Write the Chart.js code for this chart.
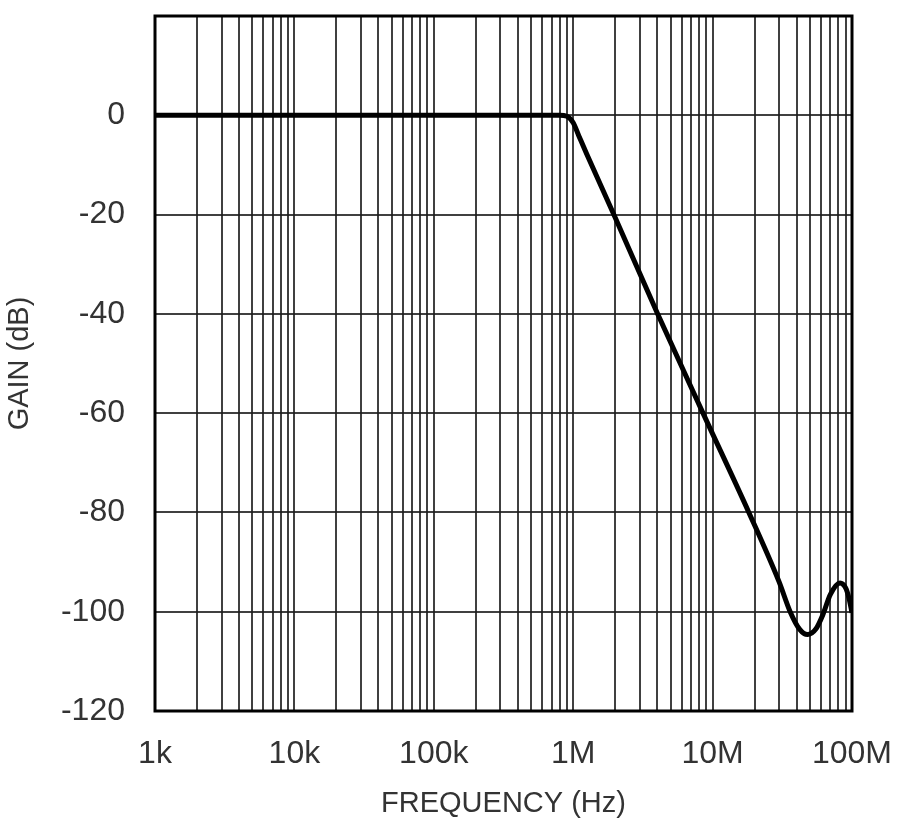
<!DOCTYPE html>
<html>
<head>
<meta charset="utf-8">
<title>Gain vs Frequency</title>
<script src="https://cdn.jsdelivr.net/npm/chart.js@4.4.1/dist/chart.umd.min.js"></script>
<style>
  html, body { margin: 0; padding: 0; background: #fff; }
  #wrap { width: 900px; height: 823px; }
</style>
</head>
<body>
<div id="wrap"><canvas id="gain-chart" width="900" height="823"></canvas></div>
<script>
// curve: frequency (Hz) and gain (dB)
const freqHz = [1e3, 1e4, 1e5, 5e5, 8e5, 9e5, 1e6, 1.1e6, 1.25e6, 2e6, 4e6, 8.7e6,
                18.2e6, 30e6, 36e6, 42e6, 48e6, 55e6, 62e6, 70e6, 82e6, 90e6, 95e6, 1e8];
const gainDb = [0, 0, 0, 0, 0, -0.2, -1.5, -4.2, -7.8, -20.6, -39.8, -60.5,
                -80, -94, -100, -103.5, -104.6, -103.5, -100.5, -96.5, -94.2, -95.2, -97.2, -100.2];

// axis ticks
const decadeTicks = [1e3, 1e4, 1e5, 1e6, 1e7, 1e8];
const decadeLabels = ['1k', '10k', '100k', '1M', '10M', '100M'];
const minorSteps = [1, 2, 3, 4, 5, 6, 7, 8, 9];
const gainTicks = [20, 0, -20, -40, -60, -80, -100, -120];

const TEXT = '#333';
const GRID = 'rgba(30,30,30,0.85)';

function buildFreqTicks() {
    let ticks = [];
    decadeTicks.forEach(function (d, i) {
        if (i === decadeTicks.length - 1) { ticks.push({ value: d }); return; }
        minorSteps.forEach(function (m) { ticks.push({ value: d * m }); });
    });
    return ticks;
}

// box around the plot area
const frame = {
    id: 'frame',
    beforeDatasetsDraw(chart) {
        const a = chart.chartArea, ctx = chart.ctx;
        ctx.save();
        ctx.strokeStyle = '#000';
        ctx.lineWidth = 3;
        ctx.strokeRect(a.left, a.top, a.right - a.left, a.bottom - a.top);
        ctx.restore();
    }
};

initializeChart();

function initializeChart() {
    new Chart(document.getElementById('gain-chart'), {
        type: 'line',
        data: {
            datasets: [{
                label: 'Gain',
                data: freqHz.map(function (f, i) { return { x: f, y: gainDb[i] }; }),
                borderColor: '#000',
                borderWidth: 5,
                pointRadius: 0,
                cubicInterpolationMode: 'monotone',
                fill: false
            }]
        },
        options: {
            responsive: false,
            animation: false,
            devicePixelRatio: 1,
            layout: { padding: { left: 0, top: 16, right: 48, bottom: 0 } },
            plugins: {
                legend: { display: false },
                tooltip: { enabled: false }
            },
            scales: {
                x: {
                    type: 'logarithmic',
                    min: 1e3,
                    max: 1e8,
                    afterBuildTicks: function (scale) { scale.ticks = buildFreqTicks(); },
                    afterFit: function (scale) {
                        scale.height = 112;
                        scale.paddingLeft = 0;
                        scale.paddingRight = 0;
                    },
                    border: { display: false },
                    grid: { color: GRID, lineWidth: 2, drawTicks: false },
                    ticks: {
                        autoSkip: false,
                        maxRotation: 0,
                        padding: 24,
                        color: TEXT,
                        font: { family: 'Liberation Sans', size: 32 },
                        callback: function (v) {
                            const i = decadeTicks.indexOf(v);
                            return i >= 0 ? decadeLabels[i] : '';
                        }
                    },
                    title: {
                        display: true,
                        text: 'FREQUENCY (Hz)',
                        color: TEXT,
                        font: { family: 'Liberation Sans', size: 29 },
                        padding: { top: 0, bottom: 2 }
                    }
                },
                y: {
                    min: -120,
                    max: 20,
                    afterBuildTicks: function (scale) {
                        scale.ticks = gainTicks.map(function (v) { return { value: v }; });
                    },
                    afterFit: function (scale) {
                        scale.width = 155;
                        scale.paddingTop = 0;
                        scale.paddingBottom = 0;
                    },
                    border: { display: false },
                    grid: { color: GRID, lineWidth: 2, drawTicks: false },
                    ticks: {
                        padding: 30,
                        color: TEXT,
                        font: { family: 'Liberation Sans', size: 32 },
                        callback: function (v) { return v === 20 ? null : v; }
                    },
                    title: {
                        display: true,
                        text: 'GAIN (dB)',
                        color: TEXT,
                        font: { family: 'Liberation Sans', size: 29 },
                        padding: { top: 3, bottom: 0 }
                    }
                }
            }
        },
        plugins: [frame]
    });
}
</script>
</body>
</html>
